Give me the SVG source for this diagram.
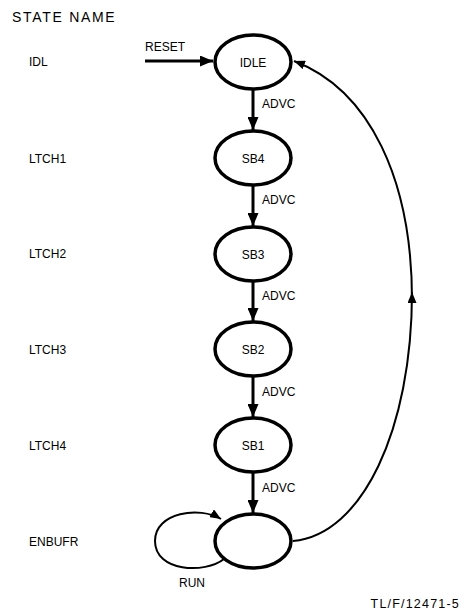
<svg xmlns="http://www.w3.org/2000/svg" width="467" height="613" viewBox="0 0 467 613">
<style>
text{font-family:"Liberation Sans",Arial,sans-serif;font-size:12px;fill:#000}
.node ellipse{fill:#fff;stroke:#000;stroke-width:3.5}
.node text{text-anchor:middle}
.thick{fill:none;stroke:#000;stroke-width:3}
.thin{fill:none;stroke:#000;stroke-width:2}
</style>
<defs>
<marker id="ah" markerUnits="userSpaceOnUse" viewBox="0 0 13 11" refX="13" refY="5.5" markerWidth="13" markerHeight="11" orient="auto">
<path d="M0,0 L13,5.5 L0,11 Z" fill="#000"/>
</marker>
<marker id="ahs" markerUnits="userSpaceOnUse" viewBox="0 0 11 9" refX="11" refY="4.5" markerWidth="11" markerHeight="9" orient="auto">
<path d="M0,0 L11,4.5 L0,9 Z" fill="#000"/>
</marker>
</defs>
<text x="12" y="22" style="font-size:14px;letter-spacing:1.7px">STATE NAME</text>
<g id="statenames">
<text x="29" y="66">IDL</text>
<text x="29" y="163">LTCH1</text>
<text x="29" y="258">LTCH2</text>
<text x="29" y="354">LTCH3</text>
<text x="29" y="450">LTCH4</text>
<text x="29" y="546">ENBUFR</text>
</g>
<g id="connectors">
<path class="thick" d="M145,61 H213" marker-end="url(#ah)"/>
<path class="thick" d="M253,90 V130" marker-end="url(#ah)"/>
<path class="thick" d="M253,186 V226" marker-end="url(#ah)"/>
<path class="thick" d="M253,282 V321" marker-end="url(#ah)"/>
<path class="thick" d="M253,377 V417" marker-end="url(#ah)"/>
<path class="thick" d="M253,473 V513" marker-end="url(#ah)"/>
<path class="thin" d="M293,541 C362,535 412,430 412,292" marker-end="url(#ahs)"/>
<path class="thin" d="M412,300 C412,180 370,90 294,61" marker-end="url(#ahs)"/>
<path class="thin" d="M224,559 C205,574 155,572 155,541 C155,512 200,506 221,519" marker-end="url(#ahs)"/>
</g>
<g id="labels">
<text x="145" y="51">RESET</text>
<text x="262" y="108">ADVC</text>
<text x="262" y="204">ADVC</text>
<text x="262" y="300">ADVC</text>
<text x="262" y="396">ADVC</text>
<text x="262" y="492">ADVC</text>
<text x="179" y="587">RUN</text>
</g>
<g id="IDLE" class="node"><ellipse cx="253" cy="62" rx="38" ry="27"/><text x="253" y="66.5">IDLE</text></g>
<g id="SB4" class="node"><ellipse cx="253" cy="158" rx="38" ry="27"/><text x="253" y="162.5">SB4</text></g>
<g id="SB3" class="node"><ellipse cx="253" cy="254" rx="38" ry="27"/><text x="253" y="258.5">SB3</text></g>
<g id="SB2" class="node"><ellipse cx="253" cy="349" rx="38" ry="27"/><text x="253" y="353.5">SB2</text></g>
<g id="SB1" class="node"><ellipse cx="253" cy="445" rx="38" ry="27"/><text x="253" y="449.5">SB1</text></g>
<g id="ENBUFR" class="node"><ellipse cx="253" cy="541" rx="38" ry="27"/></g>
<text x="460" y="608" style="font-size:12.5px;letter-spacing:1.2px;text-anchor:end">TL/F/12471-5</text>
</svg>
